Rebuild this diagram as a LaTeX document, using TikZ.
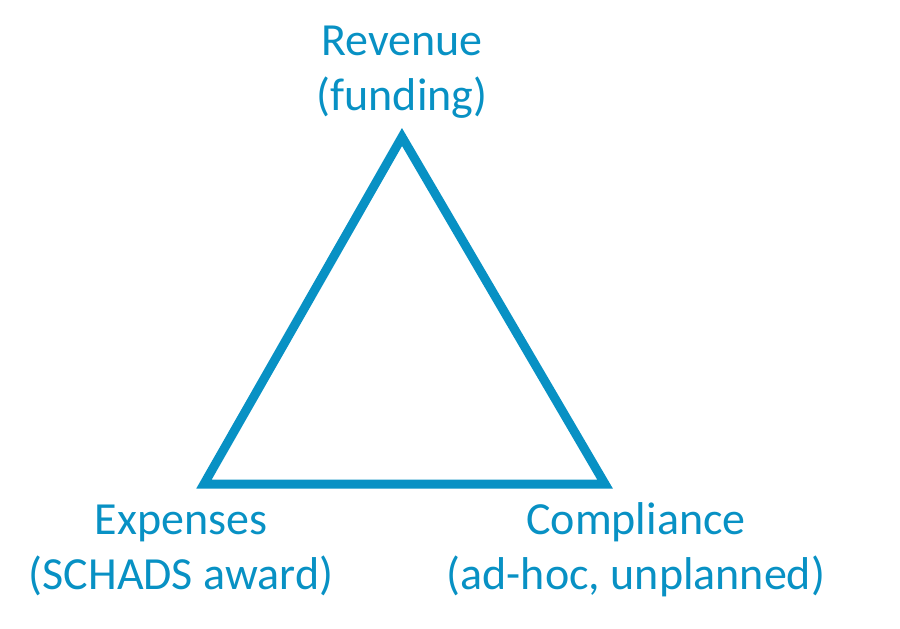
\documentclass[tikz,border=0pt]{standalone}
\usepackage{fontspec}
\setmainfont{Carlito}
\usetikzlibrary{calc}
\definecolor{triblue}{RGB}{8,145,196}

\begin{document}
\begin{tikzpicture} [x=0.5pt, y=-0.5pt,
				corner/.style={
				% The shape:
				coordinate
    				},
				label/.style={
				% The text:
				align=center,
				text=triblue,
				% The font:
				font=\fontsize{23}{27.5}\selectfont,
				inner sep=0pt
    				},
				edge/.style={
				% The border:
				draw=triblue,
				line width=4.5pt,
				line join=miter
    				},
				]
    \useasboundingbox (0,0) rectangle (900,628);
    % corners of the triangle
    \node [corner] (top) at (402,137) {};
    \node [corner] (left) at (204,484) {};
    \node [corner] (right) at (605,484) {};
    \draw [edge] (top) -- (left) -- (right) -- cycle;
    % texts
    \node [label] (revenue) at (402,72) {Revenue\\(funding)};
    \node [label] (expenses) at (181,550) {Expenses\\(SCHADS award)};
    \node [label] (compliance) at (636,550) {Compliance\\(ad-hoc, unplanned)};
\end{tikzpicture}
\end{document}
